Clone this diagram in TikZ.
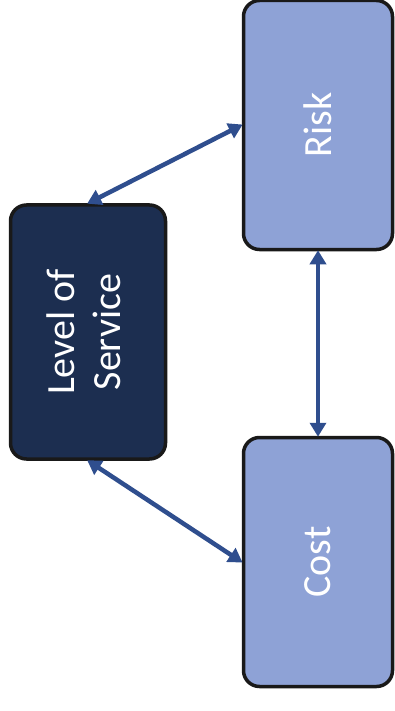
\documentclass[tikz,border=0pt]{standalone}
\usepackage{fontspec}
\usepackage{graphicx}
\setmainfont{Carlito}
\usetikzlibrary{arrows.meta}
\definecolor{navybox}{HTML}{1C2E50}
\definecolor{lightbox}{HTML}{8EA2D6}
\definecolor{arrowblue}{HTML}{2F4E8E}
\begin{document}
\begin{tikzpicture}[x=1pt,y=-1pt,
  box/.style={draw=black!90, line width=3.5pt, rounded corners=16pt, text=white,
    inner sep=0pt, font=\fontsize{40}{48}\selectfont},
  darkbox/.style={box, fill=navybox, minimum width=155pt, minimum height=254pt},
  lightboxstyle/.style={box, fill=lightbox, minimum width=149pt, minimum height=249pt},
  link/.style={draw=arrowblue, line width=4.5pt,
    {Triangle[length=14pt,width=16pt]}-{Triangle[length=14pt,width=16pt]}, shorten <=-1pt, shorten >=-1pt}]
\useasboundingbox (0,0) rectangle (395,711);
\node[darkbox] (los) at (88,332) {\rotatebox{90}{\begin{tabular}{@{}c@{}}Level of\\[-2pt]Service\end{tabular}}};
\node[lightboxstyle] (risk) at (318,125) {\rotatebox{90}{Risk}};
\node[lightboxstyle] (cost) at (318,562) {\rotatebox{90}{Cost}};
\draw[link] (los.north) -- (risk.west);
\draw[link] (los.south) -- (cost.west);
\draw[link] (risk.south) -- (cost.north);
\end{tikzpicture}
\end{document}
